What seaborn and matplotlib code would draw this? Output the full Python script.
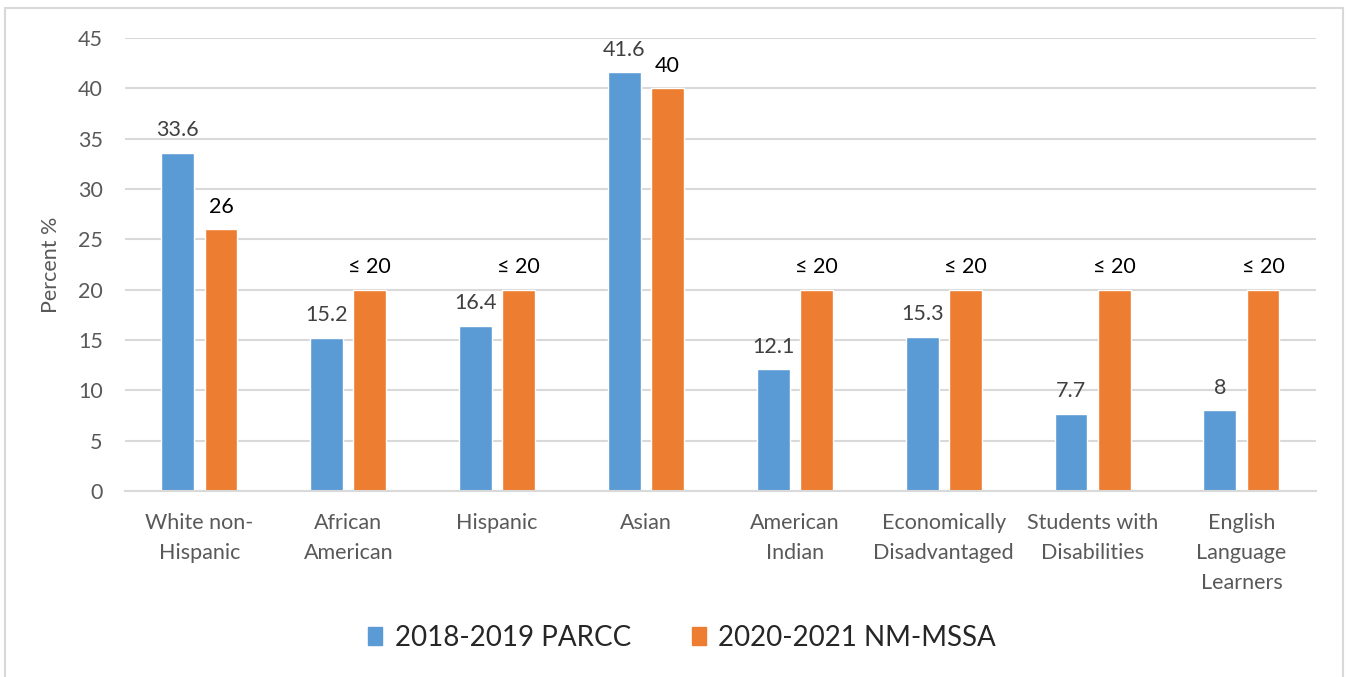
import matplotlib
matplotlib.use('Agg')
import matplotlib.pyplot as plt
import matplotlib.patches as mpatches
import seaborn as sns
import pandas as pd

groups = ['White non-\nHispanic', 'African\nAmerican', 'Hispanic', 'Asian',
          'American\nIndian', 'Economically\nDisadvantaged', 'Students with\nDisabilities',
          'English\nLanguage\nLearners']
parcc = [33.6, 15.2, 16.4, 41.6, 12.1, 15.3, 7.7, 8]
mssa = [26, 20, 20, 40, 20, 20, 20, 20]
parcc_labels = ['33.6', '15.2', '16.4', '41.6', '12.1', '15.3', '7.7', '8']
mssa_labels = ['26', '≤ 20', '≤ 20', '40', '≤ 20', '≤ 20', '≤ 20', '≤ 20']
series = ['2018-2019 PARCC', '2020-2021 NM-MSSA']
colors = ['#5B9BD5', '#ED7D31']

df = pd.DataFrame({
    'group': groups * 2,
    'value': parcc + mssa,
    'series': [series[0]] * len(groups) + [series[1]] * len(groups),
})

sns.set_style('white')
plt.rcParams['font.family'] = ['Lato', 'DejaVu Sans']

fig = plt.figure(figsize=(13.48, 6.77), dpi=100)
ax = fig.add_axes([0.0927, 0.2747, 0.8835, 0.6692])

sns.barplot(data=df, x='group', y='value', hue='series', palette=colors,
            width=0.58, gap=0.24, ax=ax, legend=False, saturation=1)

ax.bar_label(ax.containers[0], labels=parcc_labels, padding=9, fontsize=15.5, color='#404040')
ax.bar_label(ax.containers[1], labels=mssa_labels, padding=9, fontsize=15.5, color='black')

ax.set_ylim(0, 45)
ax.set_yticks(range(0, 50, 5))
ax.set_xlim(-0.5, len(groups) - 0.5)
ax.yaxis.grid(True, color='#D9D9D9', linewidth=1.5)
ax.set_axisbelow(True)
for s in ['top', 'right', 'left']:
    ax.spines[s].set_visible(False)
ax.spines['bottom'].set_color('#D9D9D9')
ax.spines['bottom'].set_linewidth(1.5)
ax.tick_params(axis='both', length=0, labelsize=15.5, labelcolor='#595959')
ax.tick_params(axis='y', pad=16)
ax.tick_params(axis='x', pad=16)
for t in ax.get_xticklabels():
    t.set_linespacing(1.62)
ax.set_xlabel('')
ax.set_ylabel('Percent %', fontsize=15.5, color='#595959', labelpad=12)

handles = [mpatches.Patch(color=c, label=s) for c, s in zip(colors, series)]
fig.legend(handles=handles, loc='center', bbox_to_anchor=(0.506, 0.058), ncol=2,
           frameon=False, fontsize=20, handlelength=0.5, handleheight=0.6,
           handletextpad=0.45, columnspacing=2.2)

fig.patches.append(mpatches.Rectangle((5 / 1348, -0.05), 1338 / 1348, 1.05 - 8 / 677,
                                      transform=fig.transFigure, fill=False,
                                      edgecolor='#D9D9D9', linewidth=1.5))

fig.savefig('out.png', dpi=100)
